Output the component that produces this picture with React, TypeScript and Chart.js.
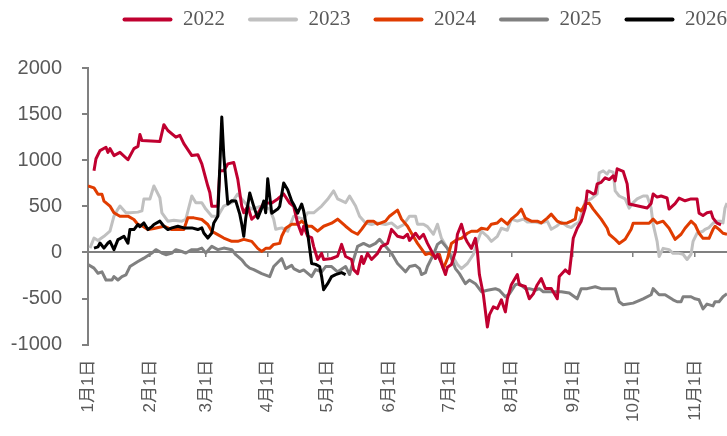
import React, { useEffect, useRef } from 'react';
import { Chart, registerables } from 'chart.js';

Chart.register(...registerables);

// Month tick positions (day of year, 0 = 1月1日) and their labels
const monthDays = [0, 31, 59, 90, 120, 151, 181, 212, 243, 273, 304];
const monthLabels = ['1月1日', '2月1日', '3月1日', '4月1日', '5月1日', '6月1日', '7月1日', '8月1日', '9月1日', '10月1日', '11月1日'];
const xMax = 320;

const yTicksMin = -1000;
const yTicksMax = 2000;
const yStep = 500;

const seriesNames = ['2022', '2023', '2024', '2025', '2026'];
const seriesColors = ['#C00030', '#C0C0C0', '#E03C00', '#808080', '#000000'];

const days2022 = [3, 4, 6, 9, 10, 11, 13, 16, 20, 23, 25, 26, 27, 36, 38, 40, 44, 46, 48, 52, 55, 57, 60, 61, 62, 65, 66, 68, 70, 73, 75, 77, 78, 80, 82, 85, 88, 92, 95, 98, 101, 103, 105, 107, 108, 110, 112, 113, 115, 117, 118, 122, 125, 127, 129, 132, 133, 135, 136, 137, 138, 140, 142, 145, 147, 150, 152, 155, 158, 160, 161, 164, 166, 168, 170, 174, 175, 177, 179, 180, 182, 184, 185, 187, 189, 190, 192, 194, 195, 196, 198, 200, 201, 203, 205, 207, 209, 210, 212, 215, 216, 219, 221, 223, 225, 227, 229, 232, 235, 236, 239, 241, 242, 243, 245, 247, 249, 250, 251, 253, 254, 255, 257, 259, 261, 263, 264, 265, 268, 270, 271, 280, 282, 283, 285, 287, 290, 291, 294, 296, 299, 302, 305, 306, 308, 310, 312, 313, 315, 317];
const vals2022 = [885, 1016, 1104, 1140, 1085, 1126, 1050, 1085, 1005, 1126, 1150, 1280, 1213, 1202, 1385, 1322, 1250, 1270, 1180, 1050, 1060, 960, 720, 650, 500, 500, 885, 885, 960, 975, 795, 500, 430, 500, 360, 420, 535, 535, 580, 634, 535, 500, 317, 197, 284, 175, 160, 66, -77, -10, -77, -66, -40, 87, -44, -77, -186, -230, -130, -44, -120, -10, -77, -10, 66, 98, 250, 175, 160, 197, 130, 208, 150, 197, 98, -66, -20, -120, -240, -160, -131, 11, 197, 306, 153, 110, 44, 153, 11, -240, -459, -810, -678, -590, -610, -514, -645, -503, -350, -240, -350, -370, -503, -450, -350, -284, -390, -390, -503, -260, -190, -230, -44, 153, 262, 339, 481, 667, 660, 634, 640, 743, 760, 809, 790, 831, 776, 907, 880, 743, 525, 481, 530, 634, 600, 612, 590, 470, 530, 590, 560, 580, 580, 426, 400, 430, 440, 372, 317, 300];

const days2023 = [1, 3, 5, 8, 11, 13, 15, 16, 19, 21, 25, 27, 28, 31, 33, 36, 37, 40, 43, 47, 49, 52, 54, 57, 59, 62, 65, 68, 72, 75, 77, 80, 82, 87, 91, 93, 94, 97, 100, 103, 108, 110, 113, 117, 120, 123, 125, 129, 131, 134, 136, 139, 142, 145, 149, 152, 155, 158, 161, 164, 165, 168, 170, 173, 175, 177, 180, 182, 185, 187, 190, 193, 195, 197, 200, 202, 205, 207, 210, 212, 215, 218, 220, 224, 227, 230, 232, 235, 237, 240, 242, 244, 246, 249, 252, 255, 256, 258, 260, 261, 263, 264, 266, 269, 271, 273, 275, 278, 280, 282, 283, 285, 286, 288, 291, 293, 296, 298, 300, 302, 303, 305, 308, 309, 311, 313, 315, 317, 318, 319, 320];
const vals2023 = [47, 156, 130, 175, 230, 393, 470, 503, 430, 430, 437, 450, 580, 580, 721, 593, 430, 339, 350, 339, 360, 612, 539, 539, 470, 393, 393, 503, 539, 634, 580, 503, 470, 503, 470, 361, 251, 266, 230, 393, 361, 430, 430, 503, 576, 667, 580, 539, 612, 503, 393, 320, 303, 320, 303, 320, 266, 300, 393, 393, 306, 306, 280, 197, 306, 153, 44, -20, -131, -175, -120, -22, 120, 230, 175, 120, 175, 262, 240, 361, 340, 361, 330, 330, 317, 340, 251, 290, 330, 284, 270, 306, 330, 557, 580, 634, 863, 885, 850, 885, 870, 667, 612, 580, 481, 540, 580, 612, 612, 481, 306, 120, -44, 44, 30, -10, -10, -20, -77, -20, 120, 208, 230, 250, 270, 317, 339, 339, 320, 481, 535];

const days2024 = [0, 3, 5, 7, 8, 11, 13, 16, 20, 23, 25, 27, 30, 33, 38, 42, 48, 50, 53, 57, 60, 62, 65, 68, 72, 75, 78, 82, 85, 87, 89, 91, 93, 96, 97, 99, 102, 105, 107, 110, 112, 115, 118, 122, 125, 129, 132, 135, 137, 140, 143, 145, 149, 151, 155, 157, 160, 162, 165, 169, 171, 174, 176, 178, 180, 182, 185, 187, 190, 192, 195, 197, 200, 202, 205, 207, 210, 212, 215, 217, 219, 222, 225, 227, 230, 232, 235, 237, 240, 242, 244, 245, 247, 249, 251, 253, 255, 257, 260, 261, 264, 266, 269, 272, 273, 276, 281, 283, 285, 288, 291, 294, 297, 299, 302, 304, 306, 308, 311, 313, 314, 316, 318, 320];
const vals2024 = [721, 700, 630, 630, 557, 503, 430, 393, 393, 357, 303, 290, 248, 260, 284, 248, 248, 375, 375, 357, 303, 230, 193, 156, 120, 120, 142, 120, 44, 11, 44, 44, 87, 98, 175, 262, 306, 306, 339, 284, 284, 230, 284, 317, 361, 284, 230, 197, 250, 339, 339, 306, 339, 393, 459, 361, 284, 208, 98, -22, -10, -44, -22, -175, -66, 98, 142, 153, 208, 230, 230, 262, 250, 306, 320, 361, 306, 361, 415, 470, 372, 339, 339, 320, 372, 415, 339, 317, 320, 339, 361, 481, 450, 525, 535, 470, 415, 361, 262, 197, 142, 98, 142, 251, 317, 317, 317, 361, 317, 339, 262, 142, 197, 262, 339, 300, 208, 153, 153, 251, 284, 250, 208, 197];

const days2025 = [0, 3, 5, 7, 9, 12, 13, 15, 17, 19, 21, 25, 28, 32, 34, 37, 39, 42, 44, 47, 49, 52, 55, 57, 59, 62, 65, 68, 72, 74, 77, 79, 81, 83, 87, 91, 93, 97, 99, 102, 103, 106, 108, 112, 114, 117, 119, 122, 125, 129, 131, 133, 135, 138, 141, 144, 146, 149, 152, 155, 159, 161, 164, 166, 167, 169, 170, 173, 175, 177, 180, 182, 184, 186, 189, 191, 194, 197, 200, 204, 206, 209, 211, 214, 216, 219, 221, 224, 226, 228, 230, 234, 237, 241, 245, 247, 250, 254, 257, 260, 264, 266, 268, 273, 278, 282, 283, 286, 289, 293, 295, 297, 298, 302, 304, 306, 308, 310, 313, 314, 316, 318, 320];
const vals2025 = [-131, -170, -226, -210, -299, -299, -262, -299, -262, -244, -153, -98, -62, -7, 30, -7, -25, -7, 30, 10, -7, 30, 30, 47, -7, 66, 30, 47, 30, -25, -80, -135, -170, -186, -230, -262, -153, -66, -175, -140, -175, -208, -190, -262, -186, -210, -153, -153, -210, -153, -240, -77, 66, 98, 66, 98, 142, 66, -10, -120, -210, -153, -140, -175, -240, -220, -153, -22, 87, 120, 44, -66, -175, -230, -339, -300, -339, -426, -410, -393, -410, -481, -450, -350, -340, -393, -393, -410, -393, -426, -426, -426, -426, -440, -503, -393, -393, -372, -393, -393, -393, -535, -568, -550, -503, -459, -393, -459, -459, -514, -535, -535, -481, -481, -503, -514, -612, -560, -580, -535, -535, -481, -448];

const days2026 = [3, 5, 6, 8, 10, 11, 13, 15, 16, 18, 20, 21, 23, 25, 26, 28, 30, 32, 33, 36, 38, 40, 42, 45, 48, 52, 55, 57, 58, 60, 62, 63, 65, 67, 68, 70, 72, 74, 76, 77, 78, 79, 81, 83, 85, 87, 88, 89, 90, 92, 95, 96, 98, 100, 102, 103, 105, 107, 108, 110, 112, 114, 116, 117, 118, 120, 122, 124, 127, 129];
const vals2026 = [47, 60, 102, 47, 102, 120, 30, 139, 150, 175, 100, 248, 248, 303, 280, 320, 248, 280, 303, 339, 284, 248, 266, 284, 266, 266, 248, 266, 211, 156, 211, 320, 393, 1468, 1050, 525, 560, 557, 415, 306, 175, 372, 645, 500, 372, 480, 557, 430, 798, 426, 470, 500, 754, 680, 557, 520, 426, 525, 450, 208, -120, -130, -153, -262, -404, -339, -262, -240, -219, -240];

const seriesDays = [days2022, days2023, days2024, days2025, days2026];
const seriesVals = [vals2022, vals2023, vals2024, vals2025, vals2026];
const seriesOrder = [1, 4, 2, 3, 0];

// Layout tuning
const LEGEND_BLOCK_HEIGHT = 68;
const LEGEND_SHIFT_X = 23;
const LEGEND_SHIFT_Y = -14;
const Y_AXIS_WIDTH = 78;

const legendPlacement = {
  id: 'legendPlacement',
  beforeInit(chart: any) {
    const legend = chart.legend;
    if (!legend) return;
    const fit = legend.fit.bind(legend);
    legend.fit = function () {
      fit();
      this.height = LEGEND_BLOCK_HEIGHT;
    };
  },
  afterLayout(chart: any) {
    const l = chart.legend;
    if (!l) return;
    l.left += LEGEND_SHIFT_X;
    l.right += LEGEND_SHIFT_X;
    l.top += LEGEND_SHIFT_Y;
    l.bottom += LEGEND_SHIFT_Y;
  },
};

const setMonthTicks = (scale: any) => {
  scale.ticks = monthDays.map((v) => ({ value: v }));
};
const noSidePadding = (scale: any) => {
  scale.paddingLeft = 0;
  scale.paddingRight = 0;
};

export default function App() {
  const canvasRef = useRef<HTMLCanvasElement | null>(null);

  useEffect(() => {
    if (!canvasRef.current) return;
    const datasets = seriesNames.map((name, i) => ({
      label: name,
      data: seriesDays[i].map((d, j) => ({ x: d, y: seriesVals[i][j] })),
      borderColor: seriesColors[i],
      backgroundColor: seriesColors[i],
      borderWidth: 3,
      pointRadius: 0,
      pointHoverRadius: 0,
      tension: 0,
      borderJoinStyle: 'round' as const,
      order: seriesOrder[i],
      xAxisID: 'x',
      yAxisID: 'y',
    }));

    const chart = new Chart(canvasRef.current, {
      type: 'line',
      data: { datasets },
      options: {
        animation: false,
        responsive: false,
        maintainAspectRatio: false,
        parsing: false as any,
        layout: { padding: { left: 10, right: 0, top: 0, bottom: -1 } },
        plugins: {
          tooltip: { enabled: false },
          legend: {
            position: 'top',
            align: 'end',
            labels: {
              boxWidth: 50,
              boxHeight: 4,
              padding: 23,
              color: '#595959',
              font: { family: "'Liberation Serif', 'Times New Roman', serif", size: 21 },
              sort: (a: any, b: any) => a.datasetIndex - b.datasetIndex,
              generateLabels: (c: any) =>
                Chart.defaults.plugins.legend.labels.generateLabels(c).map((item: any) => ({
                  ...item,
                  fillStyle: item.strokeStyle,
                  lineWidth: 0,
                  borderRadius: 2,
                })),
            },
          },
        },
        scales: {
          x: {
            type: 'linear',
            position: 'bottom',
            min: 0,
            max: xMax,
            afterBuildTicks: setMonthTicks,
            afterFit: noSidePadding,
            grid: { display: false, drawTicks: false },
            border: { display: false },
            ticks: {
              autoSkip: false,
              minRotation: 90,
              maxRotation: 90,
              padding: 15,
              color: '#595959',
              font: { family: "'Liberation Sans', 'Noto Sans CJK SC', sans-serif", size: 17 },
              callback: (value: any) => {
                const idx = monthDays.indexOf(Number(value));
                return idx >= 0 ? monthLabels[idx] : '';
              },
            },
          },
          xz: {
            type: 'linear',
            position: { y: 0 } as any,
            min: 0,
            max: xMax,
            afterBuildTicks: setMonthTicks,
            afterFit: noSidePadding,
            grid: {
              drawOnChartArea: false,
              drawTicks: true,
              tickLength: 5,
              color: '#808080',
              lineWidth: 1.5,
            },
            border: { display: false },
            ticks: { display: false },
          },
          y: {
            type: 'linear',
            min: yTicksMin,
            max: yTicksMax,
            afterFit: (scale: any) => {
              scale.width = Y_AXIS_WIDTH;
            },
            ticks: {
              stepSize: yStep,
              padding: 20,
              color: '#595959',
              font: { family: "'Liberation Sans', Arial, sans-serif", size: 20 },
              callback: (value: any) => String(value),
            },
            grid: {
              color: (ctx: any) => (ctx.tick && ctx.tick.value === 0 ? '#808080' : 'rgba(0,0,0,0)'),
              lineWidth: 2,
              drawTicks: true,
              tickLength: 6,
              tickColor: '#808080',
              tickWidth: 2,
            } as any,
            border: { display: true, color: '#808080', width: 2 },
          },
        },
      } as any,
      plugins: [legendPlacement],
    });

    return () => chart.destroy();
  }, []);

  return (
    <div style={{ position: 'fixed', left: 0, top: 0, width: 727, height: 436, background: '#ffffff' }}>
      <canvas ref={canvasRef} width={727} height={436} />
    </div>
  );
}
